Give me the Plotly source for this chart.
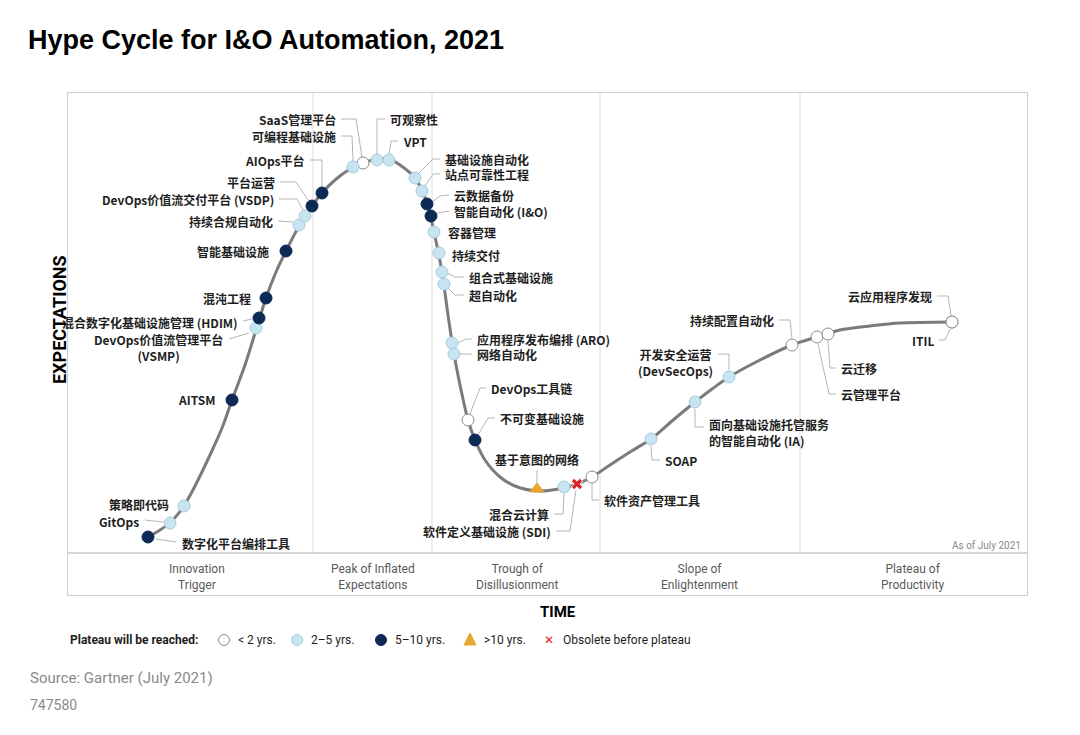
import plotly.graph_objects as go

# Dados (coordenadas: x = tempo, y = expectativas, em px)
curva_x = [148, 160, 170, 178, 184, 195, 210, 222, 232, 245, 256, 266, 276, 286, 299, 312, 322, 335,
           350, 363, 377, 389, 400, 415, 427, 434, 442, 448, 454, 460, 468, 475, 485, 500, 515, 537,
           564, 577, 592, 610, 630, 651, 672, 695, 712, 729, 760, 792, 817, 840, 870, 900, 952]
curva_y = [537, 530, 523, 514, 506, 486, 455, 428, 400, 365, 330, 298, 272, 251, 226, 206, 193, 180,
           169, 163, 159, 159, 165, 178, 203, 232, 272, 315, 354, 385, 420, 440, 460, 477, 486, 491,
           488, 484, 477, 465, 452, 439, 421, 402, 389, 377, 360, 345, 337, 330, 326, 323, 322]

nomes = ['数字化平台编排工具', 'GitOps', '策略即代码', 'AITSM', 'DevOps价值流管理平台<br>(VSMP)',
         '混合数字化基础设施管理 (HDIM)', '混沌工程', '智能基础设施', '持续合规自动化',
         'DevOps价值流交付平台 (VSDP)', '平台运营', 'AIOps平台', '可编程基础设施', 'SaaS管理平台',
         '可观察性', 'VPT', '基础设施自动化', '站点可靠性工程', '云数据备份', '智能自动化 (I&O)',
         '容器管理', '持续交付', '组合式基础设施', '超自动化', '应用程序发布编排 (ARO)', '网络自动化',
         'DevOps工具链', '不可变基础设施', '基于意图的网络', '混合云计算', '软件定义基础设施 (SDI)',
         '软件资产管理工具', 'SOAP', '面向基础设施托管服务<br>的智能自动化 (IA)', '开发安全运营<br>(DevSecOps)',
         '持续配置自动化', '云管理平台', '云迁移', 'ITIL', '云应用程序发现']
pos_x = [148, 170, 184, 232, 256, 259, 266, 286, 299, 305, 312, 322, 353, 363, 377, 389, 415, 422,
         427, 431, 434, 439, 442, 444, 452, 454, 468, 475, 537, 564, 577, 592, 651, 695, 729, 792,
         817, 828, 952, 952]
pos_y = [537, 523, 506, 400, 328, 318, 298, 251, 225, 216, 206, 193, 167, 163, 160, 160, 178, 191,
         204, 216, 232, 253, 272, 284, 343, 354, 420, 440, 489, 487, 484, 477, 439, 402, 377, 345,
         337, 334, 322, 322]
categoria = ['5-10', '2-5', '2-5', '5-10', '2-5', '5-10', '5-10', '5-10', '2-5', '2-5', '5-10', '5-10',
             '2-5', '<2', '2-5', '2-5', '2-5', '2-5', '5-10', '5-10', '2-5', '2-5', '2-5', '2-5',
             '2-5', '2-5', '<2', '5-10', '>10', '2-5', 'obs', '<2', '2-5', '2-5', '2-5', '<2',
             '<2', '<2', '<2', '<2']

fases = ['Innovation<br>Trigger', 'Peak of Inflated<br>Expectations', 'Trough of<br>Disillusionment',
         'Slope of<br>Enlightenment', 'Plateau of<br>Productivity']
legenda = ['< 2 yrs.', '2–5 yrs.', '5–10 yrs.', '>10 yrs.', 'Obsolete before plateau']

# Layout dos rotulos: (x, y, ancora, alinhamento, linha guia)
rotulos = [
    (180, 543, 'left', 'left', [(156, 539), (176, 542)]),
    (141, 521, 'right', 'left', [(145, 520), (163, 522)]),
    (171, 504, 'right', 'left', []),
    (217, 399, 'right', 'left', []),
    (225, 347, 'right', 'center', [(229, 339), (249, 333)]),
    (240, 322, 'right', 'left', [(243, 321), (252, 319)]),
    (253, 298, 'right', 'left', []),
    (271, 251, 'right', 'left', []),
    (275, 221, 'right', 'left', [(278, 221), (293, 222)]),
    (276, 199, 'right', 'left', [(279, 199), (297, 199), (303, 210)]),
    (277, 182, 'right', 'left', [(280, 182), (296, 182), (308, 200)]),
    (307, 160, 'right', 'left', [(310, 160), (322, 160), (322, 187)]),
    (338, 136, 'right', 'left', [(341, 136), (352, 136), (353, 161)]),
    (338, 119, 'right', 'left', [(341, 119), (356, 119), (362, 157)]),
    (388, 119, 'left', 'left', [(385, 119), (377, 119), (377, 154)]),
    (401, 141, 'left', 'left', [(398, 141), (391, 141), (389, 154)]),
    (443, 159, 'left', 'left', [(440, 159), (433, 159), (419, 173)]),
    (443, 174, 'left', 'left', [(440, 174), (433, 174), (425, 186)]),
    (452, 195, 'left', 'left', [(449, 195), (440, 196), (432, 202)]),
    (452, 211, 'left', 'left', [(449, 211), (437, 213)]),
    (446, 232, 'left', 'left', []),
    (450, 255, 'left', 'left', []),
    (467, 277, 'left', 'left', [(464, 277), (455, 277), (447, 273)]),
    (467, 295, 'left', 'left', [(464, 295), (455, 295), (448, 288)]),
    (475, 339, 'left', 'left', [(472, 339), (466, 339), (458, 343)]),
    (475, 354, 'left', 'left', [(472, 354), (460, 354)]),
    (489, 388, 'left', 'left', [(486, 388), (480, 388), (470, 414)]),
    (498, 418, 'left', 'left', [(495, 418), (488, 418), (478, 435)]),
    (537, 459, 'center', 'left', [(537, 470), (537, 484)]),
    (551, 514, 'right', 'left', [(554, 514), (563, 514), (564, 494)]),
    (553, 531, 'right', 'left', [(556, 531), (570, 531), (576, 490)]),
    (602, 500, 'left', 'left', [(599, 500), (592, 500), (592, 484)]),
    (663, 460, 'left', 'left', [(660, 460), (652, 460), (651, 446)]),
    (707, 432, 'left', 'left', [(695, 409), (695, 427), (704, 427)]),
    (715, 362, 'right', 'center', [(718, 354), (729, 354), (729, 370)]),
    (776, 320, 'right', 'left', [(779, 320), (790, 320), (792, 338)]),
    (839, 394, 'left', 'left', [(818, 344), (829, 394), (836, 394)]),
    (839, 368, 'left', 'left', [(828, 341), (830, 368), (836, 368)]),
    (936, 340, 'right', 'left', [(939, 340), (945, 340), (950, 329)]),
    (934, 296, 'right', 'left', [(937, 296), (948, 296), (951, 315)]),
]

estilos = {
    '<2': dict(symbol='circle', color='white', line=dict(color='#8a8a8a', width=1), size=12),
    '2-5': dict(symbol='circle', color='#c7e4f0', line=dict(color='#a3cde0', width=1), size=12),
    '5-10': dict(symbol='circle', color='#0c2a55', line=dict(color='#0c2a55', width=1), size=12),
    '>10': dict(symbol='triangle-up', color='#e6a630', line=dict(color='#e6a630', width=1), size=12),
    'obs': dict(symbol='x', color='#d9252b', line=dict(color='white', width=1), size=10),
}

# area do grafico na pagina (px); a pagina tem margem de 8 px
X0, X1, Y0, Y1 = 68, 1027, 93, 595
OFF = 8
W, H = 1080 - 2 * OFF, 735 - 2 * OFF


def px(x):
    return (x - X0) / (X1 - X0)


def py(y):
    return (Y1 - y) / (Y1 - Y0)


fig = go.Figure()

# Curva
fig.add_trace(go.Scatter(x=curva_x, y=curva_y, mode='lines', hoverinfo='skip',
                         line=dict(color='#7b7b7b', width=3, shape='spline', smoothing=0.8)))

# Linhas guia
gx, gy = [], []
for r in rotulos:
    for p in r[4]:
        gx.append(p[0])
        gy.append(p[1])
    gx.append(None)
    gy.append(None)
fig.add_trace(go.Scatter(x=gx, y=gy, mode='lines', hoverinfo='skip',
                         line=dict(color='#b5b5b5', width=1)))

# Pontos por categoria
for cat, st in estilos.items():
    idx = [i for i, c in enumerate(categoria) if c == cat]
    fig.add_trace(go.Scatter(x=[pos_x[i] for i in idx], y=[pos_y[i] for i in idx],
                             mode='markers', name=cat,
                             text=[nomes[i].replace('<br>', '') for i in idx], hoverinfo='text',
                             marker=dict(symbol=st['symbol'], color=st['color'], size=st['size'],
                                         line=st['line'])))

# Rotulos
for nome, r in zip(nomes, rotulos):
    fig.add_annotation(x=r[0], y=r[1], text=nome, showarrow=False, xanchor=r[2], yanchor='middle',
                       align=r[3], font=dict(family='Noto Sans CJK SC', size=12, color='#1e1e1e', weight=600))

# Divisorias das fases
for xd in [313, 432, 600, 800]:
    fig.add_shape(type='line', x0=xd, x1=xd, y0=Y0, y1=553, line=dict(color='#dcdcdc', width=1), layer='below')
fig.add_shape(type='line', x0=X0, x1=X1, y0=553, y1=553, line=dict(color='#c8c8c8', width=1.5), layer='below')

for nome, xc in zip(fases, [197, 373, 517, 699, 913]):
    fig.add_annotation(x=xc, y=577, text=nome, showarrow=False, yanchor='middle',
                       font=dict(family='Roboto', size=12, color='#5a5a5a'))

fig.add_annotation(x=1023, y=545, text='As of July 2021', showarrow=False, xanchor='right', yanchor='middle',
                   font=dict(family='Roboto', size=10, color='#8a8a8a'))

# Legenda (desenhada a mao para seguir o espacamento do original)
LY = 640
fig.add_annotation(xref='paper', yref='paper', x=px(68), y=py(LY), text='<b>Plateau will be reached:</b>',
                   showarrow=False, xanchor='left', yanchor='middle',
                   font=dict(family='Roboto', size=12, color='#1e1e1e'))
simb_x = [224, 297, 381, 470, 549]
for cat, sx, txt in zip(estilos.keys(), simb_x, legenda):
    st = estilos[cat]
    if st['symbol'] == 'circle':
        fig.add_shape(type='circle', xref='paper', yref='paper', xsizemode='pixel', ysizemode='pixel',
                      xanchor=px(sx), yanchor=py(LY), x0=-5.5, x1=5.5, y0=-5.5, y1=5.5,
                      fillcolor=st['color'], line=dict(color=st['line']['color'], width=1))
    elif st['symbol'] == 'triangle-up':
        fig.add_shape(type='path', xref='paper', yref='paper', xsizemode='pixel', ysizemode='pixel',
                      xanchor=px(sx), yanchor=py(LY), path='M -6 -5 L 6 -5 L 0 7 Z',
                      fillcolor=st['color'], line=dict(color=st['color'], width=1))
    else:
        fig.add_annotation(xref='paper', yref='paper', x=px(sx), y=py(LY), text='✕', showarrow=False,
                           xanchor='center', yanchor='middle',
                           font=dict(family='DejaVu Sans', size=12, color=st['color'], weight='bold'))
    fig.add_annotation(xref='paper', yref='paper', x=px(sx + 12), y=py(LY), text=txt, showarrow=False,
                       xanchor='left', yanchor='middle', font=dict(family='Roboto', size=12, color='#1e1e1e'))

# Textos fora da area
fig.add_annotation(xref='paper', yref='paper', x=px(558), y=py(612), text='<b>TIME</b>', showarrow=False,
                   xanchor='center', yanchor='middle', font=dict(family='Roboto', size=15, color='black'))
fig.add_annotation(xref='paper', yref='paper', x=px(59), y=py(320), text='<b>EXPECTATIONS</b>', showarrow=False,
                   xanchor='center', yanchor='middle', textangle=-90,
                   font=dict(family='Roboto', size=18, color='black'))
fig.add_annotation(xref='paper', yref='paper', x=px(28), y=py(678), text='Source: Gartner (July 2021)',
                   showarrow=False, xanchor='left', yanchor='middle',
                   font=dict(family='Roboto', size=15, color='#8a8a8a'))
fig.add_annotation(xref='paper', yref='paper', x=px(28), y=py(705), text='747580',
                   showarrow=False, xanchor='left', yanchor='middle',
                   font=dict(family='Roboto', size=14, color='#8a8a8a'))

fig.update_layout(
    width=W, height=H, showlegend=False,
    margin=dict(l=X0 - OFF, r=W - (X1 - OFF), t=Y0 - OFF, b=H - (Y1 - OFF)),
    paper_bgcolor='white', plot_bgcolor='white',
    title=dict(text='<b>Hype Cycle for I&O Automation, 2021</b>', x=(28 - OFF) / W, y=1 - (40 - OFF) / H,
               xanchor='left', yanchor='middle', font=dict(family='Liberation Sans', size=27, color='black')),
    xaxis=dict(range=[X0, X1], showgrid=False, zeroline=False, showticklabels=False, ticks='',
               showline=True, mirror=True, linecolor='#cfcfcf', linewidth=1),
    yaxis=dict(range=[Y1, Y0], showgrid=False, zeroline=False, showticklabels=False, ticks='',
               showline=True, mirror=True, linecolor='#cfcfcf', linewidth=1),
)

fig.write_html("out.html")
